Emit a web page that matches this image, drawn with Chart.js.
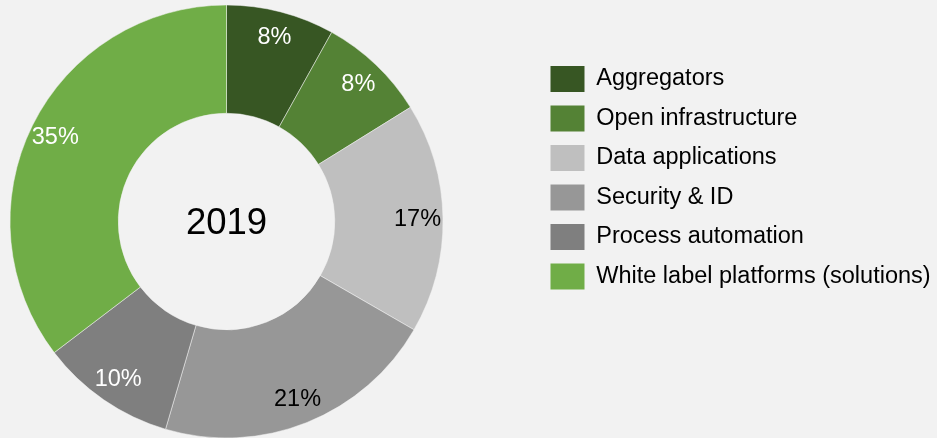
<!DOCTYPE html>
<html>
<head>
<meta charset="utf-8">
<script src="https://cdn.jsdelivr.net/npm/chart.js@4/dist/chart.umd.min.js"></script>
<style>
  html, body { margin: 0; padding: 0; background: #f2f2f2; overflow: hidden; width: 937px; height: 438px; }
  /* the canvas reaches past the left edge so the ring sits left while the legend stays on the right */
  #wrap { position: absolute; left: -84px; top: 0; width: 1021px; height: 438px; }
</style>
</head>
<body>
<div id="wrap"><canvas id="c"></canvas></div>
<script>
// Market segments and their share (%) in 2019
const segments = [
  'Aggregators',
  'Open infrastructure',
  'Data applications',
  'Security & ID',
  'Process automation',
  'White label platforms (solutions)'
];
const shares = [8, 8, 17, 21, 10, 35];
const centerTitle = '2019';

// Styling
const sliceColors = ['#375623', '#548235', '#bfbfbf', '#979797', '#7f7f7f', '#70ad47'];
const labelColors = ['#ffffff', '#ffffff', '#000000', '#000000', '#ffffff', '#ffffff'];
const FONT = '"Liberation Sans", Arial, Helvetica, sans-serif';

// Percentage labels drawn inside each ring segment
const sliceLabels = {
  id: 'sliceLabels',
  afterDatasetsDraw(chart) {
    const ctx = chart.ctx;
    const meta = chart.getDatasetMeta(0);
    ctx.save();
    ctx.font = '23.5px ' + FONT;
    ctx.textAlign = 'center';
    ctx.textBaseline = 'middle';
    meta.data.forEach((arc, i) => {
      const p = arc.getProps(['x', 'y', 'startAngle', 'endAngle', 'innerRadius', 'outerRadius'], true);
      const mid = (p.startAngle + p.endAngle) / 2;
      const r = p.innerRadius + 0.765 * (p.outerRadius - p.innerRadius);
      ctx.fillStyle = labelColors[i];
      ctx.fillText(shares[i] + '%', p.x + Math.cos(mid) * r, p.y + Math.sin(mid) * r + 1);
    });
    ctx.restore();
  }
};

// Year in the hole of the ring
const centerText = {
  id: 'centerText',
  afterDatasetsDraw(chart) {
    const arc = chart.getDatasetMeta(0).data[0];
    if (!arc) return;
    const { x, y } = arc.getProps(['x', 'y'], true);
    const ctx = chart.ctx;
    ctx.save();
    ctx.font = '36.5px ' + FONT;
    ctx.fillStyle = '#000000';
    ctx.textAlign = 'center';
    ctx.textBaseline = 'middle';
    ctx.fillText(centerTitle, x, y + 2);
    ctx.restore();
  }
};

new Chart(document.getElementById('c'), {
  type: 'doughnut',
  data: {
    labels: segments,
    datasets: [{
      data: shares,
      backgroundColor: sliceColors,
      borderColor: '#f2f2f2',
      borderWidth: 0.5
    }]
  },
  options: {
    responsive: true,
    maintainAspectRatio: false,
    animation: false,
    events: [],
    radius: 216.5,
    cutout: '50%',
    layout: { padding: { top: 52.5, bottom: 47.5, left: 0, right: 0 } },
    plugins: {
      tooltip: { enabled: false },
      legend: {
        position: 'right',
        align: 'start',
        maxWidth: 400,
        labels: {
          boxWidth: 34,
          boxHeight: 26,
          padding: 13.5,
          color: '#000000',
          font: { family: FONT, size: 23.5 },
          generateLabels(chart) {
            const items = Chart.overrides.doughnut.plugins.legend.labels.generateLabels(chart);
            items.forEach(it => { it.lineWidth = 0; });
            return items;
          }
        }
      }
    }
  },
  plugins: [sliceLabels, centerText]
});
</script>
</body>
</html>
